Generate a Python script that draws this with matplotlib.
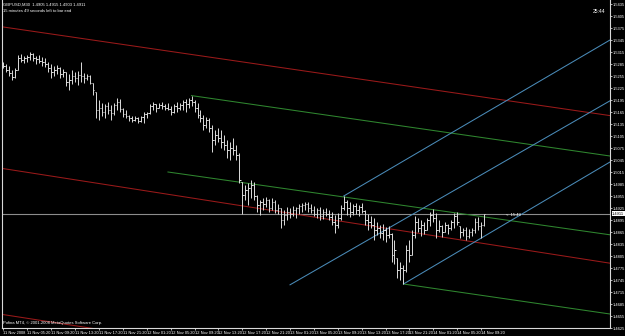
import matplotlib
matplotlib.use("Agg")
import matplotlib.pyplot as plt
import numpy as np

plt.rcParams['font.family'] = ['Liberation Sans Narrow', 'Liberation Sans', 'DejaVu Sans']

# ---------------- data (GBPUSD, M30) ----------------
highs = [1.5290, 1.5285, 1.5280, 1.5270, 1.5275, 1.5308, 1.5310, 1.5305, 1.5308, 1.5315,
         1.5312, 1.5305, 1.5308, 1.5302, 1.5300, 1.5290, 1.5285, 1.5280, 1.5282, 1.5278,
         1.5272, 1.5265, 1.5260, 1.5270, 1.5265, 1.5268, 1.5290, 1.5262, 1.5260, 1.5258,
         1.5238, 1.5215, 1.5195, 1.5188, 1.5185, 1.5190, 1.5182, 1.5188, 1.5200, 1.5198,
         1.5175, 1.5170, 1.5158, 1.5155, 1.5155, 1.5152, 1.5155, 1.5165, 1.5165, 1.5185,
         1.5190, 1.5185, 1.5188, 1.5190, 1.5185, 1.5188, 1.5180, 1.5185, 1.5190, 1.5188,
         1.5195, 1.5198, 1.5200, 1.5205, 1.5195, 1.5188, 1.5170, 1.5158, 1.5152, 1.5150,
         1.5132, 1.5120, 1.5125, 1.5120, 1.5108, 1.5095, 1.5090, 1.5100, 1.5082, 1.5062,
         1.4990, 1.4982, 1.4988, 1.4995, 1.4990, 1.4958, 1.4945, 1.4950, 1.4952, 1.4948,
         1.4950, 1.4945, 1.4935, 1.4925, 1.4920, 1.4928, 1.4925, 1.4930, 1.4928, 1.4935,
         1.4938, 1.4940, 1.4940, 1.4935, 1.4930, 1.4925, 1.4928, 1.4922, 1.4925, 1.4920,
         1.4915, 1.4908, 1.4912, 1.4932, 1.4955, 1.4945, 1.4940, 1.4935, 1.4938, 1.4932,
         1.4938, 1.4920, 1.4910, 1.4905, 1.4900, 1.4890, 1.4882, 1.4885, 1.4878, 1.4880,
         1.4862, 1.4845, 1.4800, 1.4790, 1.4782, 1.4832, 1.4845, 1.4870, 1.4905, 1.4900,
         1.4895, 1.4890, 1.4900, 1.4915, 1.4922, 1.4912, 1.4895, 1.4882, 1.4890, 1.4885,
         1.4895, 1.4912, 1.4915, 1.4880, 1.4875, 1.4878, 1.4872, 1.4875, 1.4900, 1.4902,
         1.4890, 1.4910]
lows = [1.5275, 1.5265, 1.5255, 1.5245, 1.5250, 1.5270, 1.5290, 1.5288, 1.5290, 1.5295,
        1.5292, 1.5285, 1.5288, 1.5280, 1.5278, 1.5265, 1.5250, 1.5255, 1.5260, 1.5250,
        1.5252, 1.5230, 1.5220, 1.5235, 1.5240, 1.5232, 1.5240, 1.5238, 1.5245, 1.5235,
        1.5208, 1.5150, 1.5145, 1.5155, 1.5150, 1.5160, 1.5145, 1.5158, 1.5170, 1.5165,
        1.5152, 1.5150, 1.5142, 1.5140, 1.5142, 1.5138, 1.5140, 1.5138, 1.5150, 1.5160,
        1.5170, 1.5165, 1.5175, 1.5172, 1.5170, 1.5170, 1.5158, 1.5162, 1.5165, 1.5170,
        1.5170, 1.5165, 1.5175, 1.5180, 1.5165, 1.5150, 1.5140, 1.5120, 1.5125, 1.5115,
        1.5065, 1.5082, 1.5090, 1.5075, 1.5070, 1.5050, 1.5045, 1.5058, 1.5045, 1.4988,
        1.4910, 1.4945, 1.4932, 1.4950, 1.4945, 1.4915, 1.4908, 1.4920, 1.4928, 1.4915,
        1.4920, 1.4912, 1.4910, 1.4875, 1.4882, 1.4895, 1.4900, 1.4905, 1.4900, 1.4910,
        1.4915, 1.4920, 1.4915, 1.4912, 1.4905, 1.4900, 1.4895, 1.4898, 1.4905, 1.4895,
        1.4882, 1.4862, 1.4875, 1.4895, 1.4920, 1.4908, 1.4902, 1.4908, 1.4910, 1.4905,
        1.4912, 1.4882, 1.4870, 1.4875, 1.4845, 1.4858, 1.4850, 1.4845, 1.4840, 1.4850,
        1.4790, 1.4785, 1.4750, 1.4745, 1.4735, 1.4765, 1.4790, 1.4808, 1.4850, 1.4865,
        1.4855, 1.4860, 1.4870, 1.4880, 1.4890, 1.4850, 1.4865, 1.4852, 1.4865, 1.4860,
        1.4870, 1.4875, 1.4882, 1.4850, 1.4855, 1.4845, 1.4850, 1.4855, 1.4862, 1.4870,
        1.4850, 1.4880]
closes = [1.5280, 1.5270, 1.5262, 1.5252, 1.5270, 1.5300, 1.5295, 1.5300, 1.5302, 1.5310,
          1.5300, 1.5298, 1.5292, 1.5290, 1.5285, 1.5275, 1.5265, 1.5270, 1.5275, 1.5260,
          1.5265, 1.5240, 1.5245, 1.5255, 1.5250, 1.5258, 1.5255, 1.5250, 1.5255, 1.5238,
          1.5220, 1.5170, 1.5175, 1.5165, 1.5180, 1.5170, 1.5162, 1.5182, 1.5190, 1.5172,
          1.5160, 1.5155, 1.5150, 1.5145, 1.5150, 1.5142, 1.5152, 1.5160, 1.5162, 1.5180,
          1.5185, 1.5175, 1.5182, 1.5180, 1.5175, 1.5172, 1.5165, 1.5180, 1.5175, 1.5182,
          1.5190, 1.5185, 1.5195, 1.5190, 1.5175, 1.5158, 1.5150, 1.5132, 1.5145, 1.5125,
          1.5095, 1.5108, 1.5100, 1.5090, 1.5082, 1.5070, 1.5075, 1.5070, 1.5058, 1.4995,
          1.4958, 1.4970, 1.4975, 1.4982, 1.4955, 1.4932, 1.4940, 1.4935, 1.4945, 1.4925,
          1.4940, 1.4920, 1.4925, 1.4895, 1.4908, 1.4915, 1.4910, 1.4920, 1.4925, 1.4930,
          1.4932, 1.4935, 1.4925, 1.4920, 1.4910, 1.4920, 1.4905, 1.4915, 1.4910, 1.4902,
          1.4890, 1.4882, 1.4900, 1.4925, 1.4940, 1.4925, 1.4915, 1.4930, 1.4920, 1.4928,
          1.4918, 1.4895, 1.4890, 1.4882, 1.4870, 1.4875, 1.4862, 1.4870, 1.4858, 1.4860,
          1.4808, 1.4820, 1.4770, 1.4775, 1.4770, 1.4820, 1.4808, 1.4858, 1.4890, 1.4875,
          1.4882, 1.4870, 1.4895, 1.4908, 1.4900, 1.4870, 1.4880, 1.4865, 1.4882, 1.4875,
          1.4890, 1.4905, 1.4890, 1.4865, 1.4870, 1.4855, 1.4865, 1.4870, 1.4890, 1.4880,
          1.4882, 1.4911]
bid_price = 1.4911

time_labels = ["11 Nov 2008", "11 Nov 05:20", "11 Nov 09:20", "11 Nov 13:20", "11 Nov 17:20",
               "11 Nov 21:20", "12 Nov 01:20", "12 Nov 05:20", "12 Nov 09:20", "12 Nov 13:20",
               "12 Nov 17:20", "12 Nov 21:20", "13 Nov 01:20", "13 Nov 05:20", "13 Nov 09:20",
               "13 Nov 13:20", "13 Nov 17:20", "13 Nov 21:20", "14 Nov 01:20", "14 Nov 05:20",
               "14 Nov 09:20"]
price_ticks = [round(1.4625 + 0.0030 * k, 4) for k in range(28)]

# trend / channel lines: (x0 bar, price0, x1 bar, price1)
red_lines = [(-0.5, 1.5378, 203.2, 1.5156),
             (-0.5, 1.5024, 203.2, 1.4787),
             (-0.5, 1.4659, 203.2, 1.4424)]
green_lines = [(63, 1.5206, 203.2, 1.5055),
               (55.1, 1.5015, 203.2, 1.4858),
               (134, 1.4735, 203.2, 1.4660)]
blue_lines = [(114, 1.4955, 203.2, 1.5345),
              (96, 1.4733, 203.2, 1.5193),
              (134, 1.4735, 203.2, 1.5040)]

# ---------------- drawing ----------------
W, H = 625, 336
fig = plt.figure(figsize=(W / 100, H / 100), dpi=100, facecolor="black")
ax = fig.add_axes([2 / W, 8 / H, 608 / W, 328 / H], facecolor="black")

n = len(highs)
x = np.arange(n)
opens = [closes[0]] + [min(max(closes[i - 1], lows[i]), highs[i]) for i in range(1, n)]

fg = "#dcdcdc"
ax.axhline(bid_price, color="#8c8c8c", lw=0.8, zorder=1)

for (x0, p0, x1, p1) in red_lines:
    ax.plot([x0, x1], [p0, p1], color="#9a1a1a", lw=0.75, zorder=2)
for (x0, p0, x1, p1) in green_lines:
    ax.plot([x0, x1], [p0, p1], color="#2f862f", lw=0.75, zorder=2)
for (x0, p0, x1, p1) in blue_lines:
    ax.plot([x0, x1], [p0, p1], color="#4a8bb8", lw=0.75, zorder=2)

ax.vlines(x, lows, highs, color=fg, lw=0.7, zorder=3)
ax.hlines(opens, x - 0.45, x, color=fg, lw=0.7, zorder=3)
ax.hlines(closes, x, x + 0.45, color=fg, lw=0.7, zorder=3)

ax.set_xlim(-0.5, 203.2)
ax.set_ylim(1.4625, 1.5445)

for s in ["left", "right", "bottom"]:
    ax.spines[s].set_color("#d8d8d8")
    ax.spines[s].set_linewidth(0.8)
ax.spines["top"].set_visible(False)

ax.yaxis.tick_right()
ax.set_yticks(price_ticks)
ax.set_yticklabels([f"{p:.4f}" for p in price_ticks])
ax.set_xticks([8 * k for k in range(len(time_labels))])
ax.set_xticklabels(time_labels, ha="left")
ax.tick_params(axis="both", colors="#d8d8d8", labelcolor="white", labelsize=2.9,
               length=1.5, width=0.6, pad=0.6)

# highlighted bid price label
ax.text(1.0035, bid_price, f"{bid_price:.4f}", transform=ax.get_yaxis_transform(),
        fontsize=2.9, color="black", va="center", ha="left", clip_on=False,
        bbox=dict(boxstyle="square,pad=0.12", fc="white", ec="white", lw=0))

# texts
ax.text(0.002, 0.993, "GBPUSD,M30  1.4905 1.4915 1.4903 1.4911", transform=ax.transAxes,
        fontsize=3.0, color="white", va="top", ha="left")
ax.text(0.002, 0.972, "15 minutes 49 seconds left to bar end", transform=ax.transAxes,
        fontsize=3.0, color="white", va="top", ha="left")
ax.text(0.992, 0.965, "25:44", transform=ax.transAxes, fontsize=3.6, color="white",
        va="center", ha="right")
ax.text(168.5, bid_price - 0.0004, "<  15:49", fontsize=3.0, color="white",
        va="center", ha="left")
ax.text(0.002, 0.008, "Pofina MT4, \u00a9 2001-2008 MetaQuotes Software Corp.",
        transform=ax.transAxes, fontsize=3.0, color="white", va="bottom", ha="left")

fig.savefig("out.png", dpi=100, facecolor="black")
